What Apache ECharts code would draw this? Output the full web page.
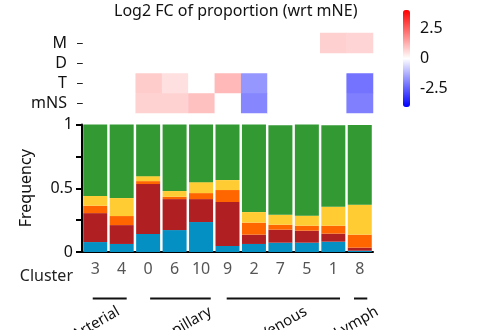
<!DOCTYPE html>
<html>
<head>
<meta charset="utf-8">
<script src="https://cdn.jsdelivr.net/npm/echarts@6/dist/echarts.min.js"></script>
<style>
  html, body { margin: 0; padding: 0; background: #fff; }
</style>
</head>
<body>
<div id="main" style="width: 502px; height: 330px"></div>
<script>
// clusters in display order
const clusters = ["3", "4", "0", "6", "10", "9", "2", "7", "5", "1", "8"];
const conditions = ["mNS", "T", "D", "M"]; // bottom -> top

// log2 FC per condition row
const fcM = [0, 0, 0, 0, 0, 0, 0, 0, 0, 0.74, 0.67];
const fcD = [0, 0, 0, 0, 0, 0, 0, 0, 0, 0, 0];
const fcT = [0, 0, 0.8, 0.49, 0, 1.1, -1.65, 0, 0, 0, -2.2];
const fcMNS = [0, 0, 0.7, 0.7, 0.99, 0, -1.9, 0, 0, 0, -2.0];

// stacked frequency segments (bottom -> top)
const freqBlue = [0.078, 0.063, 0.141, 0.172, 0.235, 0.047, 0.063, 0.073, 0.073, 0.081, 0.010];
const freqRed = [0.227, 0.148, 0.392, 0.243, 0.180, 0.345, 0.073, 0.102, 0.094, 0.063, 0.024];
const freqOrange = [0.058, 0.071, 0.023, 0.018, 0.047, 0.094, 0.094, 0.039, 0.039, 0.062, 0.102];
const freqYellow = [0.076, 0.141, 0.039, 0.045, 0.086, 0.078, 0.083, 0.078, 0.079, 0.149, 0.235];
const freqGreen = [0.561, 0.577, 0.405, 0.522, 0.452, 0.436, 0.687, 0.703, 0.715, 0.640, 0.625];

const colorbarTicks = [-2.5, 0, 2.5];

// vessel groups under the x axis
const groups = [
  { name: "Arterial", from: "3", to: "4" },
  { name: "Capillary", from: "0", to: "10" },
  { name: "Venous", from: "9", to: "1" },
  { name: "Lymph", from: "8", to: "8" },
];

let myCharts = echarts.init(document.getElementById("main"));

let heatData = [];
[fcMNS, fcT, fcD, fcM].forEach((row, r) => {
  row.forEach((v, c) => {
    heatData.push([c, r, v]);
  });
});

function barSeries(name, data, color) {
  return {
    name: name,
    type: "bar",
    xAxisIndex: 1,
    yAxisIndex: 1,
    stack: "freq",
    barWidth: 24,
    data: data,
    itemStyle: { color: color },
    emphasis: { disabled: true },
  };
}

let option = {
  animation: false,
  textStyle: { fontFamily: "Noto Sans" },
  title: {
    text: "Log2 FC of proportion (wrt mNE)",
    left: 109,
    top: -2,
    textStyle: { fontSize: 16, fontWeight: "normal", color: "#111", fontFamily: "Noto Sans" },
  },
  visualMap: {
    type: "continuous",
    min: -4,
    max: 4,
    seriesIndex: 0,
    calculable: false,
    left: 403,
    top: 10,
    padding: 0,
    itemWidth: 7,
    itemHeight: 97,
    inRange: { color: ["#0000ff", "#ffffff", "#ff0000"] },
  },
  grid: [
    { left: 83, top: 33, width: 290, height: 80 },
    { left: 82, top: 124.5, width: 291, height: 127.5 },
    { left: 403, top: 10, width: 7, height: 97 },
  ],
  xAxis: [
    { gridIndex: 0, type: "category", data: clusters, show: false },
    {
      gridIndex: 1,
      type: "category",
      data: clusters,
      name: "Cluster",
      nameLocation: "start",
      nameGap: 9,
      nameTextStyle: {
        fontSize: 16,
        color: "#222",
        align: "right",
        verticalAlign: "top",
        padding: [16, 0, 0, 0],
      },
      axisLine: { lineStyle: { color: "#000", width: 2 } },
      axisTick: { alignWithLabel: true, length: 5, lineStyle: { color: "#000", width: 2 } },
      axisLabel: { color: "#555", fontSize: 16, margin: 9, interval: 0 },
    },
    { gridIndex: 2, type: "value", show: false, min: 0, max: 1 },
  ],
  yAxis: [
    {
      gridIndex: 0,
      type: "category",
      data: conditions,
      axisLine: { show: false },
      axisTick: {
        show: true,
        alignWithLabel: true,
        interval: 0,
        length: 6,
        lineStyle: { color: "#222" },
      },
      axisLabel: { color: "#111", fontSize: 16, margin: 16, interval: 0 },
      splitLine: { show: false },
    },
    {
      gridIndex: 1,
      type: "value",
      min: 0,
      max: 1,
      interval: 0.25,
      name: "Frequency",
      nameLocation: "middle",
      nameGap: 48,
      nameTextStyle: { fontSize: 16, color: "#111" },
      axisLine: { show: true, lineStyle: { color: "#000", width: 2 } },
      axisTick: { show: true, length: 6, lineStyle: { color: "#000", width: 2 } },
      axisLabel: {
        color: "#111",
        fontSize: 16,
        margin: 9,
        formatter: (v) => ((v * 2) % 1 === 0 ? String(v) : ""),
      },
      splitLine: { show: false },
    },
    {
      gridIndex: 2,
      type: "value",
      min: -4,
      max: 4,
      position: "right",
      axisLine: { show: false },
      axisTick: {
        show: true,
        length: 5,
        customValues: colorbarTicks,
        lineStyle: { color: "#222" },
      },
      axisLabel: {
        color: "#111",
        fontSize: 16,
        margin: 10,
        customValues: colorbarTicks,
        formatter: (v) => String(v),
      },
      splitLine: { show: false },
    },
  ],
  series: [
    {
      name: "fc",
      type: "heatmap",
      xAxisIndex: 0,
      yAxisIndex: 0,
      data: heatData,
      emphasis: { disabled: true },
    },
    barSeries("blue", freqBlue, "#0590c3"),
    barSeries("red", freqRed, "#b02022"),
    barSeries("orange", freqOrange, "#ff6600"),
    barSeries("yellow", freqYellow, "#ffcc33"),
    barSeries("green", freqGreen, "#339933"),
    { type: "line", xAxisIndex: 2, yAxisIndex: 2, data: [], silent: true },
  ],
};

myCharts.setOption(option);

// group brackets: line from first to last cluster, rotated label underneath
const lineOffsets = [[-2.5, 5], [2, 9.7], [-0.8, 6.7], [-5.8, 7.5]];
const labelOffsets = [-12, -4, -38, 6];
let graphics = [];
groups.forEach((g, i) => {
  let x0 = myCharts.convertToPixel({ xAxisIndex: 1 }, g.from) + lineOffsets[i][0];
  let x1 = myCharts.convertToPixel({ xAxisIndex: 1 }, g.to) + lineOffsets[i][1];
  graphics.push({
    type: "line",
    shape: { x1: x0, y1: 298.5, x2: x1, y2: 298.5 },
    style: { stroke: "#111", lineWidth: 2 },
  });
  graphics.push({
    type: "text",
    x: x1 + labelOffsets[i],
    y: 304,
    rotation: Math.PI / 6,
    style: {
      text: g.name,
      fill: "#111",
      fontSize: 15,
      fontFamily: "Noto Sans",
      align: "right",
      verticalAlign: "top",
    },
  });
});
myCharts.setOption({ graphic: graphics });
</script>
</body>
</html>
